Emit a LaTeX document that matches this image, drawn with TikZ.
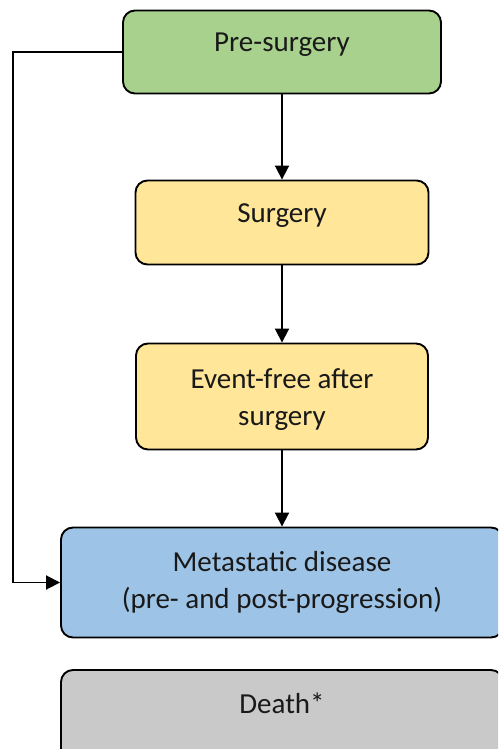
\documentclass[tikz,border=0pt]{standalone}
\usepackage{fontspec}
\setmainfont{Carlito}
\usetikzlibrary{calc}
\usetikzlibrary{arrows.meta}

\definecolor{presurg}{HTML}{A9D18E}
\definecolor{surg}{HTML}{FFE699}
\definecolor{meta}{HTML}{9DC3E6}
\definecolor{death}{HTML}{C9C9C9}

\tikzset{
  stage/.style={draw=black, line width=1.9pt, rounded corners=12pt},
  stagetext/.style={anchor=base, align=center, inner sep=0pt, text=black!90, font=\fontsize{29}{36.5}\selectfont},
  flow/.style={black, line width=1.9pt, -{Triangle[length=14pt,width=14pt]}}
}

\begin{document}
\begin{tikzpicture}[x=1pt,y=-1pt]
\useasboundingbox (0,0) rectangle (498,749);
\clip (0,0) rectangle (498,749);
% boxes
\node[stage, fill=presurg, minimum width=318pt, minimum height=83pt] (pre) at (282,52) {};
\node[stage, fill=surg, minimum width=293pt, minimum height=84pt] (surgery) at (282,222.5) {};
\node[stage, fill=surg, minimum width=292pt, minimum height=106pt] (eventfree) at (282,396.5) {};
\node[stage, fill=meta, minimum width=442pt, minimum height=110pt] (metastatic) at (282,582.5) {};
\node[stage, fill=death, minimum width=442pt, minimum height=100pt] (death) at (282,720) {};
% labels (base = last line)
\node[stagetext] (pretxt) at (282,52) {Pre-surgery};
\node[stagetext] (surgtxt) at (282,222) {Surgery};
\node[stagetext] (evtxt) at (282,425) {Event-free after\\surgery};
\node[stagetext] (metatxt) at (282,608) {Metastatic disease\\(pre- and post-progression)};
\node[stagetext] (deathtxt) at (282,713) {Death*};
% arrows
\draw[flow] (pre.south) -- (surgery.north);
\draw[flow] (surgery.south) -- (eventfree.north);
\draw[flow] (eventfree.south) -- (metastatic.north);
\coordinate (rail) at (13,52);
\draw[flow] (pre.west) -- (rail) |- (metastatic.west);
\end{tikzpicture}
\end{document}
